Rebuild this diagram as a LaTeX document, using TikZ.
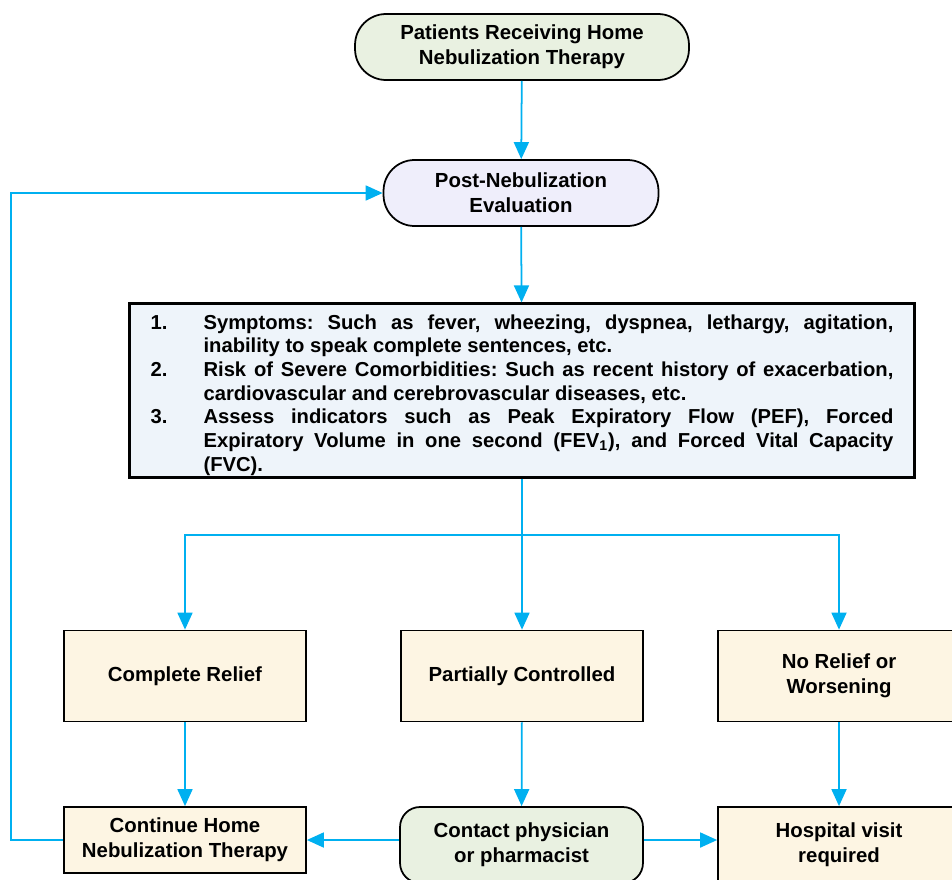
\documentclass[tikz,border=0pt]{standalone}
\usepackage{fontspec}
\setmainfont{Liberation Sans}
\usetikzlibrary{arrows.meta}

\definecolor{flowblue}{HTML}{00B0F0}
\definecolor{startgreen}{HTML}{E9F1E1}
\definecolor{evallilac}{HTML}{EFEEFB}
\definecolor{listblue}{HTML}{EEF4FA}
\definecolor{resultcream}{HTML}{FDF5E3}

\newcommand{\critem}[2]{\par\hangindent=1.06cm\hangafter=1\noindent\makebox[1.06cm][l]{#1}#2}

\tikzset{
  flow/.style={draw=flowblue, line width=1pt, -{Triangle[length=0.34cm,width=0.3cm]}},
  flowline/.style={draw=flowblue, line width=1pt},
  termbox/.style={draw=black, line width=1pt, rounded corners=0.62cm, align=center,
    font=\fontsize{11.6}{14}\selectfont\bfseries, inner sep=2pt},
  resultbox/.style={draw=black, line width=1pt, fill=resultcream, align=center,
    minimum width=4.84cm, font=\fontsize{11.6}{14}\selectfont\bfseries, inner sep=2pt}
}

\begin{document}
\begin{tikzpicture}[x=0.02cm, y=-0.02cm]
\useasboundingbox (0,0) rectangle (952,879);

% start and evaluation
\node[termbox, fill=startgreen, minimum width=6.68cm, minimum height=1.32cm] (start) at (522,47)
  {Patients Receiving Home\\Nebulization Therapy};
\node[termbox, fill=evallilac, minimum width=5.5cm, minimum height=1.32cm] (eval) at (521,193)
  {Post-Nebulization\\Evaluation};

% criteria list
\node[draw=black, line width=1.4pt, fill=listblue, text width=14.86cm, inner xsep=0.42cm, inner ysep=1pt,
  align=justify, font=\fontsize{11.5}{13.5}\selectfont\bfseries] (crit) at (522,390.5) {%
  \frenchspacing\hyphenpenalty=10000\exhyphenpenalty=10000
  \critem{1.}{Symptoms: Such as fever, wheezing, dyspnea, lethargy, agitation, inability to speak complete sentences, etc.}
  \critem{2.}{Risk of Severe Comorbidities: Such as recent history of exacerbation, cardiovascular and cerebrovascular diseases, etc.}
  \critem{3.}{Assess indicators such as Peak Expiratory Flow (PEF), Forced\linebreak Expiratory Volume in one second (FEV\textsubscript{1}), and Forced Vital Capacity\linebreak (FVC).}\par};

% outcomes
\node[resultbox, minimum height=1.82cm] (full) at (185,676) {Complete Relief};
\node[resultbox, minimum height=1.82cm] (part) at (522,676) {Partially Controlled};
\node[resultbox, minimum height=1.82cm] (none) at (839,676) {No Relief or\\Worsening};

% actions
\node[resultbox, minimum height=1.32cm] (cont) at (185,840) {Continue Home\\Nebulization Therapy};
\node[termbox, rounded corners=0.4cm, fill=startgreen, minimum width=4.86cm, minimum height=1.52cm] (call) at (521.5,845)
  {Contact physician\\or pharmacist};
\node[resultbox, minimum height=1.52cm] (hosp) at (839,845) {Hospital visit\\required};

\coordinate (fork) at (522,535);

\draw[flow] (start) -- (eval);
\draw[flow] (eval) -- (crit);
\draw[flowline] (crit) -- (fork);
\draw[flow] (fork) -| (full.north);
\draw[flow] (fork) -- (part.north);
\draw[flow] (fork) -| (none.north);
\draw[flow] (full) -- (cont);
\draw[flow] (part) -- (call);
\draw[flow] (none) -- (hosp);
\draw[flow] (call.west |- cont.east) -- (cont.east);
\draw[flow] (call.east |- cont.east) -- (hosp.west |- cont.east);
\draw[flow] (cont.west) -- ++(-52,0) |- (eval.west);
\end{tikzpicture}
\end{document}
